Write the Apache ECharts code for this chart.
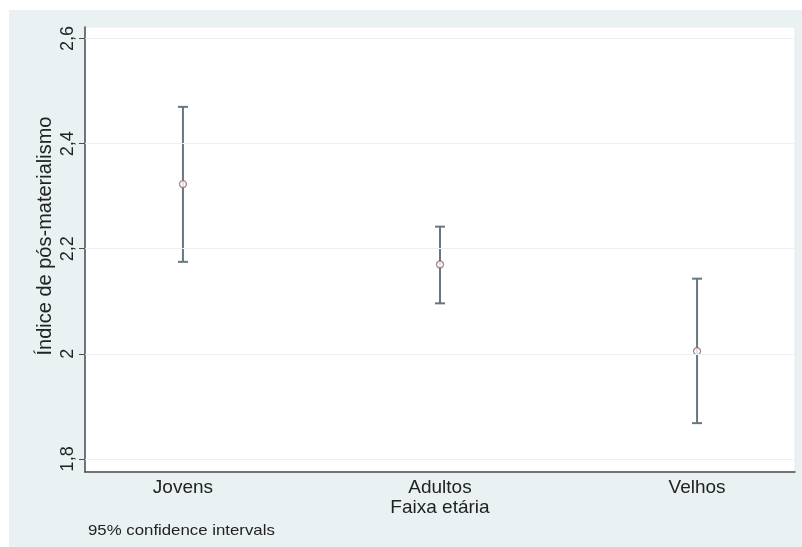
<!DOCTYPE html>
<html>
<head>
<meta charset="utf-8">
<script src="https://cdn.jsdelivr.net/npm/echarts@6/dist/echarts.min.js"></script>
<style>
  html, body { margin: 0; padding: 0; background: #fff; }
  #chart { width: 802px; height: 547px; }
</style>
</head>
<body>
<div id="chart"></div>
<script>
// Age groups and the mean post-materialism index with its 95% confidence interval
const categories = ['Jovens', 'Adultos', 'Velhos'];
const means = [2.323, 2.170, 2.005];
const lower = [2.175, 2.096, 1.868];
const upper = [2.470, 2.242, 2.143];
const yTicks = [1.8, 2.0, 2.2, 2.4, 2.6];

const positions = categories.map((_, i) => i + 1);
const barData = categories.map((_, i) => [positions[i], lower[i], upper[i]]);
const meanData = categories.map((_, i) => [positions[i], means[i]]);

const chart = echarts.init(document.getElementById('chart'), null, { renderer: 'canvas' });
const font = '"Liberation Sans", Arial, sans-serif';
const textColor = '#222';

chart.setOption({
  backgroundColor: '#ffffff',
  animation: false,
  graphic: [
    { type: 'rect', left: 9, top: 10, shape: { width: 793, height: 537 },
      style: { fill: '#eaf1f3' }, z: -10 },
    { type: 'text', x: 88, y: 531, scaleX: 1.12,
      style: { text: '95% confidence intervals', font: '15px ' + font, fill: textColor,
               align: 'left', verticalAlign: 'middle' } },
    { type: 'text', x: 440, y: 508,
      style: { text: 'Faixa etária', font: '19px ' + font, fill: textColor,
               align: 'center', verticalAlign: 'middle' } },
    { type: 'text', x: 45, y: 236, rotation: Math.PI / 2,
      style: { text: 'Índice de pós-materialismo', font: '20px ' + font, fill: textColor,
               align: 'center', verticalAlign: 'middle' } }
  ],
  grid: {
    left: 85, top: 27, right: 7, bottom: 75,
    show: true, backgroundColor: '#ffffff', borderColor: '#e4ecee', borderWidth: 1
  },
  xAxis: {
    type: 'value',
    min: 0.619, max: 3.381,
    axisLine: { show: true, onZero: false, lineStyle: { color: '#4a4a4a', width: 1.5 } },
    axisTick: { show: false },
    splitLine: { show: false },
    axisLabel: {
      customValues: positions,
      formatter: v => categories[Math.round(v) - 1] || '',
      color: textColor, fontFamily: font, fontSize: 19, margin: 6
    }
  },
  yAxis: {
    type: 'value',
    min: 1.775, max: 2.622,
    axisLine: { show: true, onZero: false, lineStyle: { color: '#4a4a4a', width: 1.5 } },
    axisTick: { show: true, customValues: yTicks, length: 6, lineStyle: { color: '#4a4a4a' } },
    splitLine: { show: false },
    axisLabel: {
      customValues: yTicks,
      rotate: 90,
      formatter: v => String(Math.round(v * 10) / 10).replace('.', ','),
      color: textColor, fontFamily: font, fontSize: 18, margin: 8
    }
  },
  series: [
    {
      // faint horizontal reference lines at each tick value
      type: 'line', data: [], silent: true,
      markLine: {
        symbol: 'none', silent: true, label: { show: false },
        lineStyle: { color: '#eaf1f3', width: 1.2, type: 'solid' },
        data: yTicks.map(v => ({ yAxis: v }))
      }
    },
    {
      type: 'custom',
      data: barData,
      renderItem: (params, api) => {
        const x = api.value(0);
        const lo = api.coord([x, api.value(1)]);
        const hi = api.coord([x, api.value(2)]);
        const cap = 5;
        const style = { stroke: '#67777f', lineWidth: 2 };
        return {
          type: 'group',
          children: [
            { type: 'line', shape: { x1: lo[0], y1: lo[1], x2: hi[0], y2: hi[1] }, style },
            { type: 'line', shape: { x1: lo[0] - cap, y1: lo[1], x2: lo[0] + cap, y2: lo[1] }, style },
            { type: 'line', shape: { x1: hi[0] - cap, y1: hi[1], x2: hi[0] + cap, y2: hi[1] }, style }
          ]
        };
      },
      z: 3
    },
    {
      type: 'scatter',
      data: meanData,
      symbol: 'circle', symbolSize: 7,
      itemStyle: { color: '#ffffff', borderColor: '#9b6470', borderWidth: 1.3 },
      z: 4
    }
  ]
});
</script>
</body>
</html>
